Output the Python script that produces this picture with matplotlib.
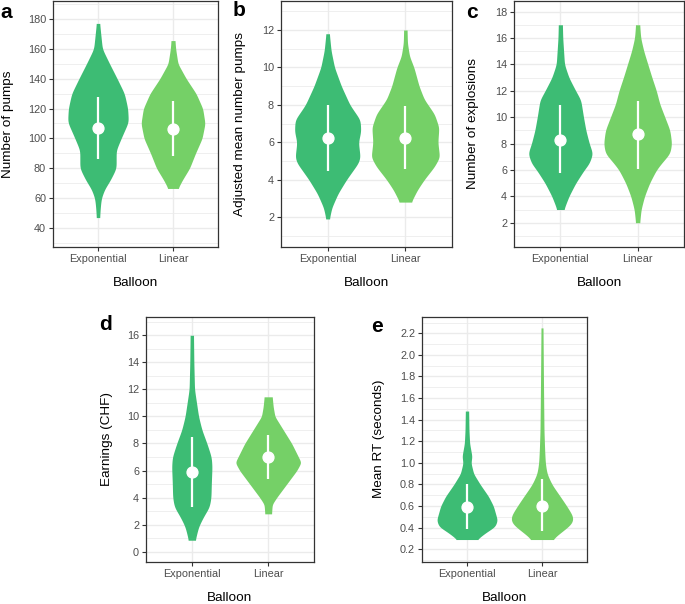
import numpy as np
import matplotlib
matplotlib.use('Agg')
import matplotlib.pyplot as plt

plt.rcParams['font.family'] = ['Liberation Sans', 'DejaVu Sans']

balloons = ['Exponential', 'Linear']
colors = ['#3DBC74', '#75D067']

# violin outlines: value -> relative density (0-100)
a_exp_y = [47, 54, 60, 66, 72, 80, 86, 92, 100, 111, 120, 130, 140, 150, 160, 177]
a_exp_d = [5, 7, 10, 20, 37, 55, 55, 55, 70, 92, 90, 80, 58, 35, 13, 5]
a_lin_y = [66.5, 72, 80, 90, 100, 110, 120, 130, 140, 150, 160, 165.5]
a_lin_d = [15, 28, 50, 68, 88, 97, 90, 70, 40, 15, 8, 6]

b_exp_y = [1.9, 2.5, 3.25, 4.0, 4.9, 5.2, 6.0, 6.6, 7.2, 8.0, 9.0, 10.0, 10.9, 11.8]
b_exp_d = [5, 12, 30, 55, 90, 95, 90, 97, 95, 65, 40, 20, 10, 5]
b_lin_y = [2.8, 3.45, 4.0, 4.7, 5.2, 6.0, 6.8, 7.5, 8.3, 9.0, 10.0, 10.6, 11.3, 12.0]
b_lin_d = [17, 35, 55, 85, 100, 95, 98, 85, 55, 40, 25, 12, 6, 5]

c_exp_y = [3, 4, 5, 6, 6.5, 7.25, 8, 9, 10, 11.3, 12, 13, 14, 16, 17]
c_exp_d = [10, 25, 45, 70, 85, 95, 85, 75, 68, 60, 45, 25, 12, 7, 6]
c_lin_y = [2, 3, 4, 5, 6, 6.5, 7.25, 8, 9, 10, 11, 12, 13, 14, 15, 16, 17]
c_lin_d = [6, 10, 20, 35, 55, 70, 95, 100, 95, 80, 65, 55, 42, 30, 18, 9, 6]

d_exp_y = [0.85, 1.85, 2.6, 3.3, 4, 5, 6.3, 7, 8, 9, 10, 12, 14, 16]
d_exp_d = [10, 20, 35, 52, 57, 58, 60, 58, 45, 30, 20, 8, 6, 5]
d_lin_y = [2.8, 3.5, 4, 5, 6, 6.6, 7, 8, 9, 10, 10.7, 11.45]
d_lin_d = [10, 12, 25, 55, 85, 98, 90, 70, 45, 20, 15, 12]

e_exp_y = [0.29, 0.35, 0.41, 0.47, 0.6, 0.69, 0.8, 0.9, 1.0, 1.06, 1.18, 1.3, 1.48]
e_exp_d = [30, 55, 85, 92, 80, 65, 40, 20, 12, 15, 8, 6, 5]
e_lin_y = [0.29, 0.35, 0.44, 0.5, 0.6, 0.69, 0.8, 0.9, 1.0, 1.12, 1.3, 1.58, 1.9, 2.25]
e_lin_d = [30, 55, 92, 95, 75, 55, 30, 15, 10, 8, 6, 5, 4, 3]

# mean and +/- sd per balloon
a_mean = [107, 106.5]
a_low = [86, 88]
a_high = [128, 125]
b_mean = [6.2, 6.2]
b_low = [4.45, 4.55]
b_high = [8.0, 7.95]
c_mean = [8.3, 8.7]
c_low = [5.8, 6.1]
c_high = [10.95, 11.25]
d_mean = [5.9, 7.0]
d_low = [3.3, 5.35]
d_high = [8.5, 8.65]
e_mean = [0.595, 0.605]
e_low = [0.39, 0.37]
e_high = [0.80, 0.855]

W, H = 685, 604


def box(l, t, r, b):
    return [l / W, 1 - b / H, (r - l) / W, (b - t) / H]


def smooth_outline(y, d):
    yy = np.linspace(y[0], y[-1], 400)
    ww = np.interp(yy, y, d)
    k = np.exp(-0.5 * (np.arange(-15, 16) / 6.0) ** 2)
    k /= k.sum()
    ww = np.convolve(np.pad(ww, 15, mode='edge'), k, mode='valid')
    return yy, ww * 0.44 / 100


def draw_panel(rect, profiles, mean, low, high, ylim, yticks, minor, ylabel):
    ax = fig.add_axes(rect)
    ax.set_facecolor('white')
    for v in minor:
        ax.axhline(v, color='#EBEBEB', lw=0.55, zorder=0)
    for v in yticks:
        ax.axhline(v, color='#EBEBEB', lw=1.0, zorder=0)
    for x in (1, 2):
        ax.axvline(x, color='#EBEBEB', lw=1.0, zorder=0)
    for i, (y, d) in enumerate(profiles):
        yy, ww = smooth_outline(y, d)
        ax.fill_betweenx(yy, i + 1 - ww, i + 1 + ww, color=colors[i], lw=0, zorder=2)
        ax.plot([i + 1, i + 1], [low[i], high[i]], color='white', lw=1.6, zorder=3,
                solid_capstyle='butt')
        ax.plot(i + 1, mean[i], 'o', color='white', ms=7.8, mec='white', zorder=4)
    ax.set_xlim(0.4, 2.6)
    ax.set_ylim(*ylim)
    ax.set_xticks([1, 2])
    ax.set_xticklabels(balloons)
    ax.set_yticks(yticks)
    ax.tick_params(colors='#333333', labelcolor='#4D4D4D', labelsize=7.8,
                   length=3, width=0.8, pad=2)
    for s in ax.spines.values():
        s.set_color('#333333')
        s.set_linewidth(0.9)
    return ax


fig = plt.figure(figsize=(W / 100, H / 100), dpi=100)

draw_panel(box(53, 1, 218, 247), [(a_exp_y, a_exp_d), (a_lin_y, a_lin_d)],
           a_mean, a_low, a_high, (27.3, 192), list(range(40, 181, 20)),
           list(range(30, 191, 20)), 'Number of pumps')
draw_panel(box(281, 1, 452, 247), [(b_exp_y, b_exp_d), (b_lin_y, b_lin_d)],
           b_mean, b_low, b_high, (0.4, 13.55), list(range(2, 13, 2)),
           list(range(1, 14, 2)), 'Adjusted mean number pumps')
draw_panel(box(514, 1, 684, 247), [(c_exp_y, c_exp_d), (c_lin_y, c_lin_d)],
           c_mean, c_low, c_high, (0.16, 18.8), list(range(2, 19, 2)),
           list(range(1, 19, 2)), 'Number of explosions')
draw_panel(box(146, 317, 314, 562), [(d_exp_y, d_exp_d), (d_lin_y, d_lin_d)],
           d_mean, d_low, d_high, (-0.76, 17.35), list(range(0, 17, 2)),
           list(range(1, 18, 2)), 'Earnings (CHF)')
ax_e = draw_panel(box(422, 317, 587, 562), [(e_exp_y, e_exp_d), (e_lin_y, e_lin_d)],
                  e_mean, e_low, e_high, (0.082, 2.351),
                  [round(0.2 * i, 1) for i in range(1, 12)],
                  [round(0.1 + 0.2 * i, 1) for i in range(0, 12)], 'Mean RT (seconds)')
ax_e.set_yticklabels(['%.1f' % (0.2 * i) for i in range(1, 12)])


def ftext(x, y, s, **kw):
    fig.text(x / W, 1 - y / H, s, **kw)


# axis titles
ylabels = [(8, 124, 'Number of pumps'), (240, 124, 'Adjusted mean number pumps'),
           (473, 124, 'Number of explosions'), (107, 439, 'Earnings (CHF)'),
           (379, 439, 'Mean RT (seconds)')]
for x, y, s in ylabels:
    ftext(x, y, s, rotation=90, ha='center', va='center', fontsize=9.7)
for x, y in [(135.5, 283), (366.5, 283), (599, 283), (230, 598), (504.5, 598)]:
    ftext(x, y, 'Balloon', ha='center', va='center', fontsize=9.7)

# panel letters
for x, y, s in [(6, 12, 'a'), (239, 11, 'b'), (472, 12, 'c'), (105, 325, 'd'), (377, 326, 'e')]:
    ftext(x, y, s, ha='center', va='center', fontsize=15, fontweight='bold')

fig.savefig('out.png', dpi=100)
